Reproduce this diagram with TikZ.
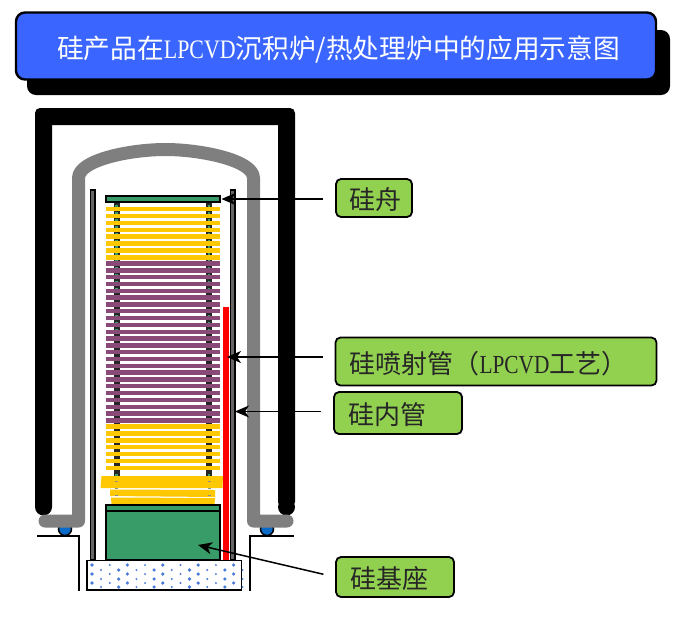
\documentclass[tikz,border=0pt]{standalone}
\usepackage{fontspec}
\setmainfont{Liberation Serif}
\newfontfamily\cjk{Noto Sans CJK SC}
\newfontfamily\lat[FakeStretch=0.82]{Liberation Serif}
\usetikzlibrary{arrows.meta}
\definecolor{titleblue}{HTML}{3A66FF}
\definecolor{labgreen}{HTML}{92D050}
\definecolor{basegreen}{HTML}{389C68}
\definecolor{waferyellow}{HTML}{FFC800}
\definecolor{waferpurple}{HTML}{8A4A78}
\definecolor{tubegray}{HTML}{7F7F7F}
\definecolor{ringblue}{HTML}{0A6AC8}
\definecolor{dotblue}{HTML}{4A7AD8}
\newcommand{\lefttext}[2]{\makebox[#1pt][l]{#2}}
\tikzset{
  labelbox/.style={draw=black,line width=1.8pt,fill=labgreen,rounded corners=5pt,inner sep=0pt,
    font=\fontsize{26}{26}\selectfont\cjk,text=black!85,text depth=0pt},
  pointer/.style={draw=black,line width=1.5pt,-{Stealth[length=14pt,width=12pt,inset=4pt]},shorten <=12pt},
  waferbar/.style={line width=4.4pt},
  inner tube/.style={draw=black,fill=black!60,line width=1.7pt}
}
\begin{document}
\begin{tikzpicture}[x=1pt,y=-1pt]
\useasboundingbox (0,0) rectangle (692,616);
% title
\fill[black,rounded corners=9pt] (27,30) rectangle (670,95);
\node[draw=black,line width=2.4pt,fill=titleblue,rounded corners=9pt,minimum width=640pt,minimum height=67pt,inner sep=0pt,
  text=white,font=\fontsize{26.7}{26.7}\selectfont\cjk,text height=24pt,text depth=0pt] (title) at (336,46)
  {\hspace*{5pt}硅产品在{\lat LPCVD}沉积炉/热处理炉中的应用示意图};
% furnace
\fill[black,rounded corners=5pt] (35,507) -- (35,108) -- (295,108) -- (295,507) -- (278,507) [sharp corners] -- (278,125) -- (52,125) -- (52,507) -- cycle;
\fill[black] (43.5,507) circle (8.5pt);
\fill[black] (286.5,507) circle (8.5pt);
% o-rings and flange seats
\foreach \x in {65,267}{
  \begin{scope}
  \clip (\x-8,520) rectangle (\x+8,536);
  \draw[black,fill=ringblue,line width=1.5pt] (\x,529) circle (6.5pt);
  \end{scope}
}
\draw[black,line width=1.4pt] (37,536) -- (79,536) -- (79,591);
\draw[black,line width=1.4pt] (294,536) -- (250,536) -- (250,591);
% process tube
\draw[tubegray,line width=13pt,line cap=round,line join=round] (45,521) -- (78.5,521) -- (78.5,178)
  .. controls (78.5,160) and (130,149.5) .. (165.5,149.5)
  .. controls (200,149.5) and (253.5,160) .. (253.5,178) -- (253.5,521) -- (287,521);
% inner tube walls
\draw[inner tube] (90.5,190) rectangle (95,560);
\draw[inner tube] (230.5,190) rectangle (235,560);
% boat rods
\foreach \x in {116.5,209}{
  \draw[black!85,line width=6pt] (\x,202) -- (\x,478);
  \draw[basegreen,line width=2.4pt,dash pattern=on 2pt off 4.9pt] (\x,205) -- (\x,478);
}
% wafers
\foreach \n in {0,...,7}{ \draw[waferyellow,waferbar] (105.5,{209+6.9*\n}) -- (220,{209+6.9*\n}); }
\foreach \n in {0,...,23}{ \draw[waferpurple,waferbar] (105.5,{263.5+6.82*\n}) -- (220,{263.5+6.82*\n}); }
\foreach \n in {0,...,6}{ \draw[waferyellow,waferbar] (105.5,{426.5+6.9*\n}) -- (220,{426.5+6.9*\n}); }
\fill[waferyellow] (101.5,476) -- (223,476) -- (222.5,488) -- (100.5,488) -- cycle;
\fill[waferyellow] (110,489.5) -- (215,490) -- (215,497) -- (110,496) -- cycle;
\fill[waferyellow] (111,497.5) -- (215,498) -- (214.5,504) -- (111.5,504) -- cycle;
\foreach \x in {116.5,209}{
  \draw[black!45,line width=3pt,dash pattern=on 1pt off 6pt] (\x,481) -- (\x,500);
}
% boat top plate
\draw[black,line width=2pt,fill=basegreen] (105.5,195.5) rectangle (220,201.5);
% pedestal
\draw[black,line width=2pt,fill=basegreen] (105.5,504.5) rectangle (220,560);
\draw[black,line width=2pt] (105.5,511) -- (220,511);
% injector
\fill[red] (223,306.5) rectangle (228.5,560);
% base block
\draw[black,line width=1.8pt,fill=white] (87,560.5) rectangle (241.5,590);
\foreach \r/\yy/\off in {0/565/92,1/570/101,2/574/92,3/579/101,4/583/92,5/587/101}{
  \foreach \k in {0,...,8}{
    \pgfmathsetmacro{\rad}{mod(\k+\r,2)==0 ? 1.8 : 1.1}
    \fill[dotblue] ({\off+17.7*\k},\yy) circle (\rad pt);
  }
}
% labels
\node[labelbox,minimum width=76pt,minimum height=38pt,text height=22pt] (boat) at (374,198) {\lefttext{50}{硅舟}};
\node[labelbox,minimum width=321pt,minimum height=48pt,text height=24pt] (inj) at (496,361.5) {\lefttext{293}{硅喷射管（{\lat LPCVD}工艺）}};
\node[labelbox,minimum width=128pt,minimum height=42pt,text height=23pt] (tube) at (398,413) {\lefttext{100}{硅内管}};
\node[labelbox,minimum width=118pt,minimum height=40pt,text height=22pt] (ped) at (395,577) {\lefttext{90}{硅基座}};
% targets
\coordinate (boatT) at (221.5,199);
\coordinate (injT) at (227,357);
\coordinate (tubeT) at (235,411.5);
\coordinate (pedT) at (198,545);
\draw[pointer] (boat.west |- boatT) -- (boatT);
\draw[pointer] (inj.west |- injT) -- (injT);
\draw[pointer] (tube.west |- tubeT) -- (tubeT);
\draw[pointer] (ped.west) -- (pedT);
\end{tikzpicture}
\end{document}
